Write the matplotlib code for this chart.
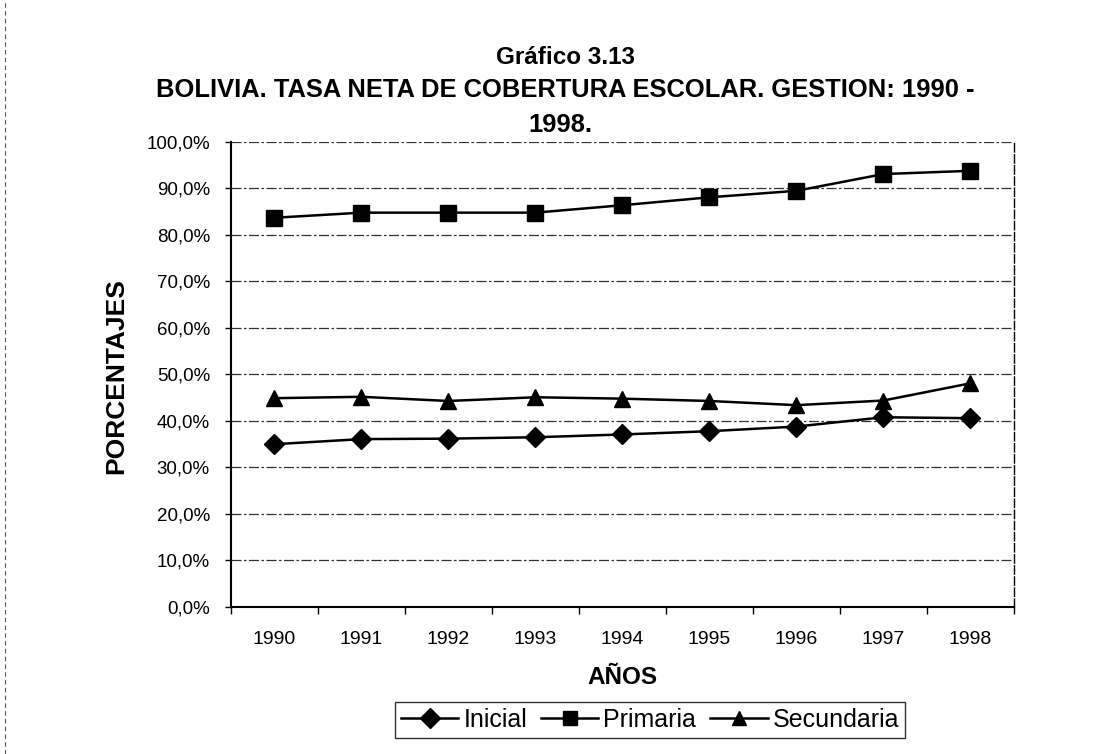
import matplotlib
matplotlib.use("Agg")
import matplotlib.pyplot as plt
from matplotlib.lines import Line2D
import numpy as np

plt.rcParams["font.family"] = ["Liberation Sans", "DejaVu Sans"]

# datos (porcentajes)
anios = ["1990", "1991", "1992", "1993", "1994", "1995", "1996", "1997", "1998"]
inicial = [35.0, 36.1, 36.2, 36.5, 37.1, 37.8, 38.8, 40.8, 40.6]
primaria = [83.7, 84.8, 84.8, 84.8, 86.4, 88.1, 89.5, 93.1, 93.8]
secundaria = [44.9, 45.2, 44.3, 45.1, 44.8, 44.3, 43.4, 44.4, 48.1]
y_ticks = [0, 10, 20, 30, 40, 50, 60, 70, 80, 90, 100]

fig = plt.figure(figsize=(10.99, 7.54), dpi=100)
ax = fig.add_axes([0.210, 0.195, 0.7126, 0.6167])

x = np.arange(len(anios))
ax.plot(x, inicial, color="black", lw=1.8, marker="D", ms=10, label="Inicial")
ax.plot(x, primaria, color="black", lw=1.8, marker="s", ms=11, label="Primaria")
ax.plot(x, secundaria, color="black", lw=1.8, marker="^", ms=12, label="Secundaria")

ax.set_xlim(-0.5, len(anios) - 0.5)
ax.set_ylim(0, 100)

# grilla horizontal
ax.set_yticks(y_ticks)
ax.set_yticklabels([f"{v:.1f}%".replace(".", ",") for v in y_ticks])
ax.yaxis.grid(True, color="#333333", lw=0.9, linestyle=(0, (8, 2, 2, 2)))
ax.set_axisbelow(True)

# categorias: etiquetas centradas, marcas entre categorias
ax.set_xticks(x)
ax.set_xticklabels(anios)
ax.set_xticks(np.arange(len(anios) + 1) - 0.5, minor=True)
ax.tick_params(axis="x", which="major", length=0, pad=17, labelsize=14)
ax.tick_params(axis="x", which="minor", length=5, width=1, direction="out")
ax.tick_params(axis="y", length=4, width=1, pad=11, labelsize=13.5)

ax.spines["top"].set_visible(False)
ax.spines["left"].set_linewidth(1.5)
ax.spines["bottom"].set_linewidth(1.5)
ax.spines["right"].set_linewidth(1.0)
ax.spines["right"].set_linestyle((0, (6, 2)))

ax.set_xlabel("AÑOS", fontsize=17.5, fontweight="bold", va="center")
ax.xaxis.set_label_coords(0.5, -0.151)
ax.set_ylabel("PORCENTAJES", fontsize=19, fontweight="bold", va="center")
ax.yaxis.set_label_coords(-0.146, 0.497)

# titulo
tx = 565 / 1099
fig.text(tx, 1 - 57 / 754, "Gráfico 3.13", ha="center", va="center",
         fontsize=17.5, fontweight="bold")
fig.text(tx, 1 - 90 / 754, "BOLIVIA. TASA NETA DE COBERTURA ESCOLAR. GESTION: 1990 -",
         ha="center", va="center", fontsize=18.4, fontweight="bold")
fig.text(tx - 5 / 1099, 1 - 125 / 754, "1998.", ha="center", va="center",
         fontsize=18.4, fontweight="bold")

leg = fig.legend(loc="center", bbox_to_anchor=(650 / 1099, 1 - 720 / 754),
                 ncol=3, fontsize=18, frameon=True, fancybox=False,
                 edgecolor="black", handlelength=2.3, handletextpad=0.2,
                 columnspacing=0.55, borderpad=0.25, borderaxespad=0)
leg.get_frame().set_linewidth(1.0)
for h in leg.legend_handles:
    h.set_markersize(10)

# borde izquierdo del escaneo
fig.add_artist(Line2D([5 / 1099, 5 / 1099], [0, 1], color="#555555",
                      lw=0.8, linestyle=(0, (4, 3))))

fig.savefig("out.png", dpi=100, facecolor="white")
